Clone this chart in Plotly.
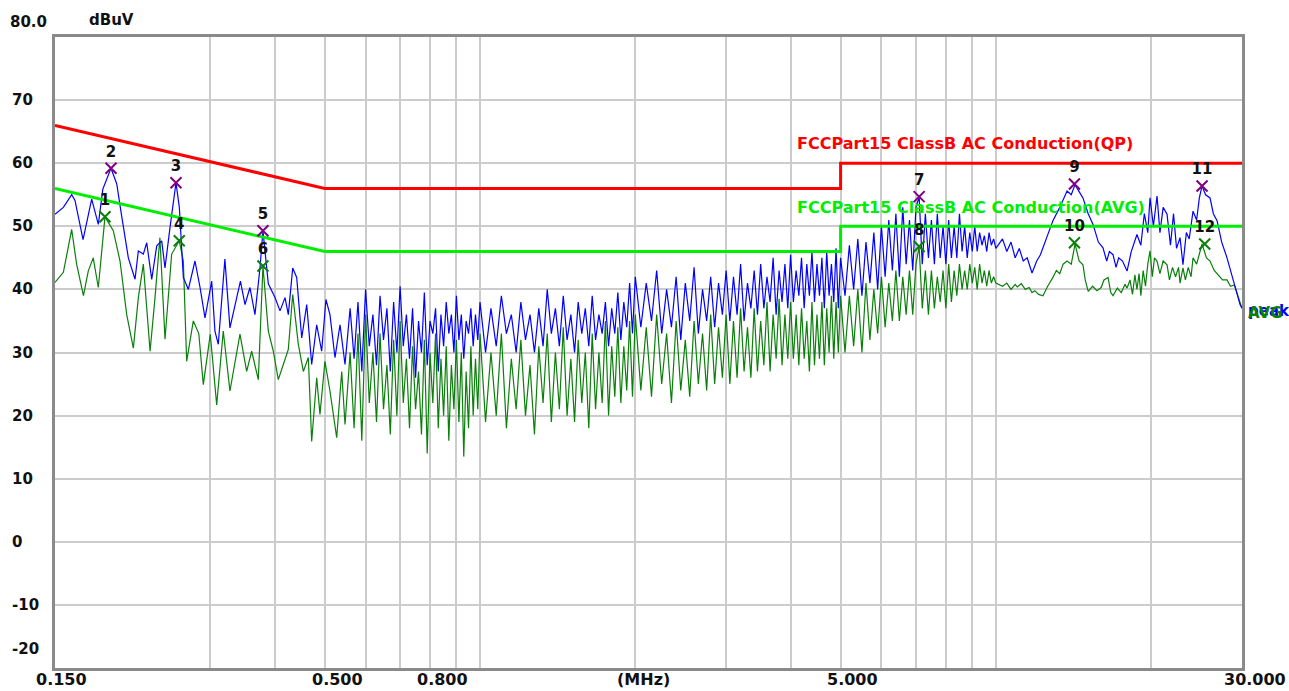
import math
import plotly.graph_objects as go

# ---------------- data ----------------
# low-frequency part of the peak (blue) trace
low_freq_pk = [0.150, 0.1557, 0.1616, 0.1640, 0.1700, 0.1767, 0.1820, 0.1857, 0.1926, 0.1976,
               0.2020, 0.2081, 0.2144, 0.2176, 0.2225, 0.2259, 0.2310, 0.2362, 0.2415, 0.2451,
               0.2506, 0.2574, 0.2613, 0.2660, 0.2720, 0.2802, 0.2866, 0.2930, 0.3019, 0.3063,
               0.3109, 0.3202, 0.3275, 0.3350, 0.3432, 0.3503, 0.3581, 0.3662, 0.3745, 0.3795,
               0.3887, 0.4005, 0.4095, 0.4188, 0.4250, 0.4334, 0.4412, 0.4512, 0.4614, 0.4717,
               0.4824, 0.4932, 0.5027, 0.5118, 0.5234, 0.5353, 0.5474]
low_pk = [51.9, 53.0, 55.0, 54.1, 47.9, 54.3, 50.3, 55.9, 59.2, 56.7,
          51.6, 45.0, 41.6, 46.1, 45.6, 47.4, 41.6, 46.9, 47.7, 43.4,
          49.8, 56.9, 53.0, 41.9, 40.0, 44.5, 40.3, 35.5, 41.3, 33.4,
          31.3, 44.8, 33.9, 37.6, 41.3, 37.6, 40.3, 36.0, 43.4, 49.3,
          40.9, 38.7, 36.6, 38.7, 36.0, 43.4, 41.9, 32.3, 37.6, 28.1,
          34.4, 30.2, 38.4, 36.0, 29.2, 34.4, 28.1]

# low-frequency part of the average (green) trace
low_freq_av = [0.150, 0.1557, 0.1616, 0.1652, 0.1703, 0.1740, 0.1779, 0.1820, 0.1875, 0.1946,
               0.2005, 0.2066, 0.2128, 0.2176, 0.2225, 0.2293, 0.2344, 0.2396, 0.2451, 0.2525,
               0.2612, 0.2660, 0.2700, 0.2781, 0.2850, 0.2908, 0.3000, 0.3087, 0.3179, 0.3275,
               0.3425, 0.3529, 0.3609, 0.3717, 0.3795, 0.3887, 0.3975, 0.4064, 0.4156, 0.4250,
               0.4334, 0.4444, 0.4545, 0.4647, 0.4717, 0.4824, 0.4895, 0.5005, 0.5118, 0.5274,
               0.5394, 0.5474]
low_av = [41.1, 42.7, 49.5, 44.0, 39.0, 42.9, 45.0, 40.3, 51.5, 49.3,
          44.5, 36.0, 30.7, 38.7, 44.0, 30.2, 38.7, 48.2, 32.1, 45.6,
          47.7, 44.5, 28.6, 35.0, 33.0, 24.9, 32.9, 21.7, 33.4, 23.9,
          32.9, 27.0, 30.2, 25.7, 43.7, 33.4, 30.2, 25.7, 28.1, 30.5,
          39.2, 31.3, 27.0, 29.2, 15.9, 26.0, 20.2, 28.6, 23.9, 16.5,
          27.0, 18.6]

# dense middle band, shared frequencies (MHz)
mid_freq_a = [0.56, 0.57, 0.58, 0.59, 0.60, 0.61, 0.62, 0.63, 0.64, 0.65,
              0.66, 0.67, 0.68, 0.69, 0.70, 0.71, 0.72, 0.73, 0.74, 0.75,
              0.76, 0.77, 0.78, 0.79, 0.80, 0.81, 0.82, 0.83, 0.84, 0.85,
              0.86, 0.87, 0.88, 0.89, 0.90, 0.91, 0.92, 0.93, 0.94, 0.95,
              0.96, 0.97, 0.98, 0.99, 1.00]
mid_pk_a = [37, 29, 38, 27, 40, 31, 36, 28, 39, 32,
            37, 27, 38, 30, 40.5, 31, 36, 29, 37, 26,
            35, 30, 39.5, 28, 35, 33, 37, 27, 36, 31,
            38, 33, 36, 30, 39, 32, 36, 29, 35, 33,
            37, 31, 36, 32, 38]
mid_av_a = [30, 18, 33, 16, 36, 22, 30, 19, 33, 21,
            28, 17, 32, 20, 35, 22, 29, 18, 31, 21,
            27, 17, 32, 14, 30, 22, 33, 18, 29, 20,
            31, 16, 28, 21, 32, 19, 30, 13.5, 27, 18,
            31, 20, 29, 21, 33]

mid_freq_b = [1.025, 1.05, 1.075, 1.10, 1.125, 1.15, 1.175, 1.20, 1.225, 1.25,
              1.275, 1.30, 1.325, 1.35, 1.375, 1.40, 1.425, 1.45, 1.475, 1.50,
              1.525, 1.55, 1.575, 1.60, 1.625, 1.65, 1.675, 1.70, 1.725, 1.75,
              1.775, 1.80, 1.825, 1.85, 1.875, 1.90, 1.925, 1.95, 1.975, 2.00]
mid_pk_b = [30, 37, 31, 39, 33, 36, 30, 38, 32, 36,
            30, 37, 31, 40, 33, 37, 31, 39, 32, 36,
            30, 38, 33, 37, 31, 39, 32, 36, 33, 38,
            31, 37, 33, 39.5, 32, 38, 34, 41, 33, 42]
mid_av_b = [19, 30, 20, 33, 18, 29, 21, 32, 20, 28,
            17, 31, 22, 33, 19, 30, 21, 34, 20, 29,
            19, 32, 22, 30, 18, 33, 21, 30, 22, 35,
            20, 31, 23, 34, 22, 31, 24, 35, 23, 36]

mid_freq_c = [2.05, 2.10, 2.15, 2.20, 2.25, 2.30, 2.35, 2.40, 2.45, 2.50,
              2.55, 2.60, 2.65, 2.70, 2.75, 2.80, 2.85, 2.90, 2.95, 3.00,
              3.05, 3.10, 3.15, 3.20, 3.25, 3.30, 3.35, 3.40, 3.45, 3.50,
              3.55, 3.60, 3.65, 3.70, 3.75, 3.80, 3.85, 3.90, 3.95, 4.00,
              4.05, 4.10, 4.15, 4.20, 4.25, 4.30, 4.35, 4.40, 4.45, 4.50,
              4.55, 4.60, 4.65, 4.70, 4.75, 4.80, 4.85, 4.90, 4.95, 5.00]
mid_pk_c = [34, 41, 35, 43, 33, 40, 34, 42, 32, 41,
            35, 43.5, 33, 40, 35, 42, 34, 41, 36, 43,
            35, 42, 36, 44, 35, 41, 37, 43, 36, 44,
            37, 42, 38, 45, 36, 43, 38, 44, 37, 45.5,
            38, 43, 39, 45, 37, 44, 39, 46, 38, 44,
            39, 45, 37, 46, 39, 44, 38, 46.5, 37, 45]
mid_av_c = [24, 34, 23, 36, 25, 33, 22, 35, 24, 32,
            23, 35, 25, 33, 24, 36, 25, 34, 26, 36,
            25, 35, 26, 37, 27, 34, 26, 37, 27, 35,
            28, 38, 27, 36, 29, 38.5, 28, 36, 29, 38,
            29, 36, 28, 37, 29, 35, 27, 38, 28, 36,
            29, 38, 28, 37, 30, 39, 29, 38, 30, 39]

mid_freq_d = [5.1, 5.2, 5.3, 5.4, 5.5, 5.6, 5.7, 5.8, 5.9, 6.0,
              6.1, 6.2, 6.3, 6.4, 6.5, 6.6, 6.7, 6.8, 6.9, 7.0,
              7.1, 7.2, 7.3, 7.4, 7.5, 7.6, 7.7, 7.8, 7.9, 8.0,
              8.1, 8.2, 8.3, 8.4, 8.5, 8.6, 8.7, 8.8, 8.9, 9.0,
              9.1, 9.2, 9.3, 9.4, 9.5, 9.6, 9.7, 9.8, 9.9, 10.0]
mid_pk_d = [39, 47, 40, 48, 39, 47.5, 41, 49, 40, 50,
            42, 51, 43, 52, 42, 53, 44, 51, 43, 53,
            54.7, 44, 52, 45, 51, 44, 52, 45, 50, 44,
            51, 45, 50, 45, 52, 46, 50, 45, 49, 46,
            50, 46, 49, 47, 48.5, 46, 49, 47, 48, 46.5]
mid_av_d = [30, 39, 31, 40, 30, 41, 32, 40, 33, 42,
            34, 41, 35, 43, 35, 42, 36, 43, 36, 44,
            46.8, 37, 43, 36, 43, 37, 42, 38, 43, 37,
            44, 38, 43, 39, 44, 40, 43, 40, 44, 41,
            43.5, 40, 44, 41, 43, 40.5, 43, 41, 42, 41]

# high-frequency part
high_freq_pk = [10.3, 10.5, 10.7, 10.9, 11.1, 11.3, 11.5, 11.75, 12.0, 12.2,
                12.34, 12.6, 12.9, 13.3, 13.74, 14.0, 14.24, 14.5, 14.75, 15.1,
                15.43, 15.8, 16.13, 16.4, 16.6, 16.87, 17.1, 17.3, 17.6, 17.96,
                18.3, 18.77, 19.1, 19.4, 19.7, 19.9, 20.2, 20.53, 20.8, 21.1,
                21.47, 21.8, 22.1, 22.4, 22.75, 23.05, 23.4, 23.7, 24.11, 24.5,
                24.8, 25.1, 25.5, 26.01, 26.4, 26.84, 27.4, 28.06, 28.4, 28.83,
                29.2, 29.74, 30.0]
high_pk = [48, 46, 47.5, 45, 46.5, 44.5, 45, 42.6, 44.5, 45.5,
           46.6, 48.5, 50.9, 53, 55.6, 55, 56.6, 55.5, 54.5, 52,
           50.3, 47.5, 46.6, 44.5, 46, 45.5, 43.5, 45, 44.5, 42.9,
           46, 48.7, 47, 52, 49, 54.5, 50, 54.8, 49, 53,
           51.9, 47, 52, 46.5, 48.2, 43.9, 49, 48, 52.4, 51,
           54.5, 56.4, 55, 54.5, 52, 50.9, 47.5, 45, 43.5, 41.9,
           40, 37.6, 37]
high_freq_av = [10.3, 10.5, 10.7, 10.9, 11.0, 11.2, 11.4, 11.6, 11.75, 11.9,
                12.1, 12.34, 12.6, 12.9, 13.1, 13.3, 13.5, 13.74, 14.0, 14.24,
                14.5, 14.75, 14.9, 15.1, 15.4, 15.7, 16.0, 16.2, 16.5, 16.7,
                16.87, 17.2, 17.5, 17.8, 17.96, 18.2, 18.4, 18.6, 18.77, 18.95,
                19.1, 19.3, 19.5, 19.7, 19.9, 20.1, 20.3, 20.53, 20.8, 21.1,
                21.47, 21.7, 22.0, 22.3, 22.6, 22.75, 23.05, 23.3, 23.6, 23.9,
                24.11, 24.5, 24.8, 25.1, 25.6, 26.01, 26.5, 27.0, 27.5, 28.06,
                28.5, 29.0, 29.5, 30.0]
high_av = [40.5, 41, 40, 40.8, 40.4, 40.9, 40, 40.3, 39.5, 39.8,
           39.2, 39, 40.5, 41.9, 43, 42.5, 44, 44.5, 44, 47.2,
           44.5, 43.9, 41.5, 39.7, 40.5, 39.8, 40.3, 41.5, 41.9, 39.5,
           39, 40.2, 39.5, 40.8, 40.2, 41.5, 39.2, 42.3, 40, 42.5,
           39, 43, 40.5, 44, 46.1, 42, 45, 44.5, 42.5, 44.5,
           43.9, 41.5, 43.5, 42, 43.5, 41, 43.4, 41.5, 43.5, 42,
           45, 44, 45.5, 47.2, 45, 44.5, 43, 42.3, 41.5, 41.5,
           40.5, 40.7, 39, 37]

# limit lines
qp_freq = [0.15, 0.5, 5.0, 5.0, 30.0]
qp_limit = [66, 56, 56, 60, 60]
avg_freq = [0.15, 0.5, 5.0, 5.0, 30.0]
avg_limit = [56, 46, 46, 50, 50]

# marked points
marker_no = ["1", "2", "3", "4", "5", "6", "7", "8", "9", "10", "11", "12"]
marker_freq = [0.1875, 0.1926, 0.2574, 0.2612, 0.3795, 0.3795, 7.1, 7.1, 14.2, 14.2, 25.1, 25.4]
marker_val = [51.5, 59.2, 56.9, 47.7, 49.3, 43.7, 54.7, 46.8, 56.7, 47.4, 56.4, 47.2]
marker_kind = ["AVG", "QP", "QP", "AVG", "QP", "AVG", "QP", "AVG", "QP", "AVG", "QP", "AVG"]

# axes
y_ticks = [70, 60, 50, 40, 30, 20, 10, 0, -10]
x_grid = [0.3, 0.4, 0.5, 0.6, 0.7, 0.8, 0.9, 1, 2, 3, 4, 5, 6, 7, 8, 9, 10, 20]
x_labels = ["0.150", "0.500", "0.800", "5.000", "30.000"]
x_label_freq = [0.15, 0.5, 0.8, 5.0, 30.0]

# --------------- assemble ---------------
for a, b in [(low_freq_pk, low_pk), (low_freq_av, low_av), (mid_freq_a, mid_pk_a), (mid_freq_a, mid_av_a),
             (mid_freq_b, mid_pk_b), (mid_freq_b, mid_av_b), (mid_freq_c, mid_pk_c), (mid_freq_c, mid_av_c),
             (mid_freq_d, mid_pk_d), (mid_freq_d, mid_av_d), (high_freq_pk, high_pk), (high_freq_av, high_av)]:
    assert len(a) == len(b), (len(a), len(b))

mid_freq = mid_freq_a + mid_freq_b + mid_freq_c + mid_freq_d
pk_freq = low_freq_pk + mid_freq + high_freq_pk
pk_val = low_pk + mid_pk_a + mid_pk_b + mid_pk_c + mid_pk_d + high_pk
av_freq = low_freq_av + mid_freq + high_freq_av
av_val = low_av + mid_av_a + mid_av_b + mid_av_c + mid_av_d + high_av

BLUE = "#0000ff"
DKGREEN = "#0a800a"
RED = "#ff0000"
LIME = "#00ee00"
PURPLE = "#800080"
FONT = "DejaVu Sans"
INK = "#111111"

fig = go.Figure()
fig.add_trace(go.Scatter(x=av_freq, y=av_val, mode="lines",
                         line=dict(color=DKGREEN, width=1.2), hoverinfo="skip"))
fig.add_trace(go.Scatter(x=pk_freq, y=pk_val, mode="lines",
                         line=dict(color=BLUE, width=1.2), hoverinfo="skip"))
fig.add_trace(go.Scatter(x=qp_freq, y=qp_limit, mode="lines",
                         line=dict(color=RED, width=3), hoverinfo="skip"))
fig.add_trace(go.Scatter(x=avg_freq, y=avg_limit, mode="lines",
                         line=dict(color=LIME, width=3), hoverinfo="skip"))

for kind, col in [("QP", PURPLE), ("AVG", DKGREEN)]:
    idx = [i for i, k in enumerate(marker_kind) if k == kind]
    fig.add_trace(go.Scatter(
        x=[marker_freq[i] for i in idx], y=[marker_val[i] for i in idx],
        mode="markers+text", text=[marker_no[i] for i in idx],
        textposition="top center",
        textfont=dict(family=FONT, size=15, color=INK, weight="bold"),
        marker=dict(symbol="x-thin", size=11, line=dict(color=col, width=2), color=col),
        hoverinfo="skip"))

PW = 1187.0
PH = 631.0
def tfont(size, color=INK):
    return dict(family=FONT, size=size, color=color, weight="bold")

ann = []
for v in y_ticks:
    ann.append(dict(x=(10 - 55) / PW, xref="paper", y=v, yref="y", text=str(v),
                    showarrow=False, xanchor="left", yanchor="middle", font=tfont(15)))
ann.append(dict(x=(8 - 55) / PW, xref="paper", y=80, yref="y", yshift=15, text="80.0",
                showarrow=False, xanchor="left", yanchor="middle", font=tfont(15)))
ann.append(dict(x=(10 - 55) / PW, xref="paper", y=-20, yref="y", yshift=19, text="-20",
                showarrow=False, xanchor="left", yanchor="middle", font=tfont(15)))
ann.append(dict(x=(87 - 55) / PW, xref="paper", y=(668 - 20) / PH, yref="paper", text="dBuV",
                showarrow=False, xanchor="left", yanchor="middle", font=tfont(15)))
x_shift = [6, 13, 12, 12, 13]
for lab, f, s in zip(x_labels, x_label_freq, x_shift):
    ann.append(dict(x=math.log10(f), xref="x", y=-12 / PH, yref="paper", xshift=s, text=lab,
                    showarrow=False, xanchor="center", yanchor="middle", font=tfont(16)))
ann.append(dict(x=(643 - 55) / PW, xref="paper", y=-12 / PH, yref="paper", text="(MHz)",
                showarrow=False, xanchor="center", yanchor="middle", font=tfont(16)))
ann.append(dict(x=(795 - 55) / PW, xref="paper", y=(668 - 143) / PH, yref="paper",
                text="FCCPart15 ClassB AC Conduction(QP)", showarrow=False,
                xanchor="left", yanchor="middle", font=tfont(16, RED)))
ann.append(dict(x=(795 - 55) / PW, xref="paper", y=(668 - 207) / PH, yref="paper",
                text="FCCPart15 ClassB AC Conduction(AVG)", showarrow=False,
                xanchor="left", yanchor="middle", font=tfont(16, LIME)))
ann.append(dict(x=(1246 - 55) / PW, xref="paper", y=(668 - 311) / PH, yref="paper",
                text="peak", showarrow=False, xanchor="left", yanchor="middle",
                font=tfont(15, BLUE)))
ann.append(dict(x=(1246 - 55) / PW, xref="paper", y=(668 - 313) / PH, yref="paper",
                text="AVG", showarrow=False, xanchor="left", yanchor="middle",
                font=tfont(15, DKGREEN)))

fig.update_layout(
    width=1289, height=691,
    margin=dict(l=55, r=47, t=37, b=23),
    paper_bgcolor="white", plot_bgcolor="white",
    showlegend=False,
    annotations=ann,
    xaxis=dict(type="log", range=[math.log10(0.15), math.log10(30)],
               tickvals=x_grid, showticklabels=False, ticks="",
               showgrid=True, gridcolor="#cccccc", gridwidth=2,
               showline=True, linecolor="#8a8a8a", linewidth=3, mirror=True,
               zeroline=False, fixedrange=True),
    yaxis=dict(range=[-20, 80], tickvals=y_ticks, showticklabels=False, ticks="",
               showgrid=True, gridcolor="#cccccc", gridwidth=2,
               showline=True, linecolor="#8a8a8a", linewidth=3, mirror=True,
               zeroline=False, fixedrange=True),
)

fig.write_html("out.html", config={"displayModeBar": False},
               post_script="document.body.style.margin='0';document.body.style.overflow='hidden';")
